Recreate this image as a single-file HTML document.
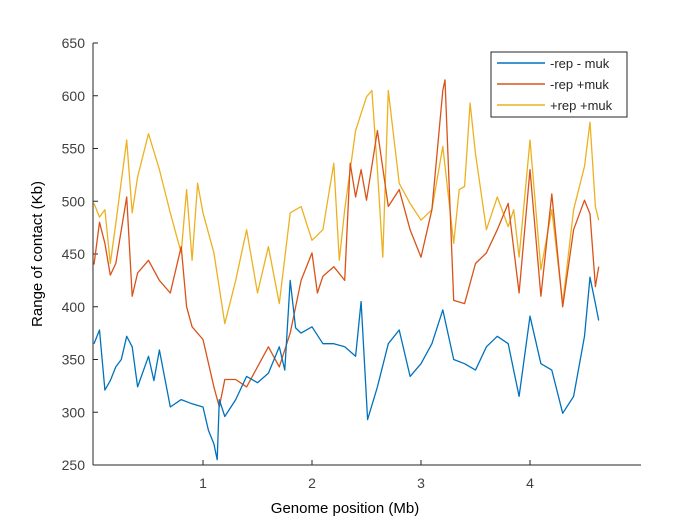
<!DOCTYPE html>
<html><head><meta charset="utf-8"><style>
html,body{margin:0;padding:0;background:#fff}
svg{display:block;font-family:"Liberation Sans",sans-serif}
</style></head><body>
<svg id="chart" width="700" height="517" viewBox="0 0 700 517">
<g id="axes"></g>
<g id="series"></g>
<g id="legend">
<rect x="491" y="52" width="136" height="65" fill="#fff" stroke="#262626" stroke-width="1"/>
<line x1="497" y1="63" x2="545" y2="63" stroke="#0072bd" stroke-width="1.5"/>
<text x="550" y="68" font-size="13" fill="#262626">-rep - muk</text>
<line x1="497" y1="84" x2="545" y2="84" stroke="#d95319" stroke-width="1.5"/>
<text x="550" y="89" font-size="13" fill="#262626">-rep +muk</text>
<line x1="497" y1="105" x2="545" y2="105" stroke="#edb120" stroke-width="1.5"/>
<text x="550" y="110" font-size="13" fill="#262626">+rep +muk</text>
</g>
</svg>
<script>
const yTicks=[250,300,350,400,450,500,550,600,650];
const xTicks=[1,2,3,4];
const blueX=[0,0.05,0.1,0.15,0.2,0.25,0.3,0.35,0.4,0.5,0.55,0.6,0.7,0.8,0.9,1.0,1.05,1.1,1.13,1.15,1.2,1.3,1.4,1.5,1.6,1.7,1.75,1.8,1.85,1.9,2.0,2.1,2.2,2.3,2.4,2.45,2.51,2.6,2.7,2.8,2.9,3.0,3.1,3.2,3.3,3.4,3.5,3.6,3.7,3.8,3.9,4.0,4.1,4.2,4.3,4.4,4.5,4.55,4.6,4.63];
const blueY=[365,378,321,330,343,350,372,362,324,353,330,359,305,312,308,305,283,270,255,312,296,312,334,328,337,362,340,425,380,375,381,365,365,362,353,405,293,324,365,378,334,346,365,397,350,346,340,362,372,365,315,391,346,340,299,315,372,428,403,387];
const redX=[0,0.05,0.1,0.15,0.2,0.3,0.35,0.4,0.5,0.6,0.7,0.8,0.85,0.9,1.0,1.1,1.15,1.2,1.3,1.4,1.5,1.6,1.7,1.8,1.9,2.0,2.05,2.1,2.2,2.3,2.35,2.4,2.45,2.5,2.6,2.7,2.8,2.9,3.0,3.1,3.2,3.22,3.3,3.4,3.5,3.6,3.7,3.8,3.9,4.0,4.1,4.2,4.3,4.4,4.5,4.55,4.6,4.63];
const redY=[440,480,460,430,441,504,410,432,444,425,413,457,400,381,369,324,305,331,331,324,343,362,343,375,425,451,413,429,438,425,536,504,530,501,567,495,511,473,447,492,605,615,406,403,441,451,473,498,413,530,410,507,400,473,501,488,419,438];
const yelX=[0,0.05,0.1,0.15,0.2,0.3,0.35,0.4,0.5,0.6,0.7,0.8,0.85,0.9,0.95,1.0,1.1,1.2,1.3,1.4,1.5,1.6,1.7,1.8,1.9,2.0,2.1,2.2,2.25,2.3,2.4,2.5,2.55,2.6,2.65,2.7,2.8,2.9,3.0,3.1,3.2,3.3,3.35,3.4,3.45,3.5,3.6,3.7,3.8,3.85,3.9,4.0,4.1,4.2,4.3,4.4,4.5,4.55,4.6,4.63];
const yelY=[498,485,492,441,479,558,489,523,564,530,489,451,511,444,517,489,451,384,425,473,413,457,403,489,495,463,473,536,444,492,567,599,605,530,447,605,517,498,482,492,552,460,511,514,593,545,473,504,476,492,447,558,435,492,403,492,533,575,495,482];
const NS='http://www.w3.org/2000/svg';
const L=93,R=641,T=43,B=465;
function sx(v){return 94+109*v;}
function sy(v){return B-(v-250)*(B-T)/400;}
function mk(tag,attrs,parent){const e=document.createElementNS(NS,tag);for(const k in attrs)e.setAttribute(k,attrs[k]);parent.appendChild(e);return e;}
const axes=document.getElementById('axes');
let a=mk('line',{x1:L,y1:T,x2:L,y2:B,stroke:'#262626','stroke-width':1},axes);


a=mk('line',{x1:L,y1:B,x2:R,y2:B,stroke:'#262626','stroke-width':1},axes);


yTicks.forEach(t=>{
  const y=sy(t);
  const tk=mk('line',{x1:L,y1:y,x2:L+5,y2:y,stroke:'#262626'},axes);
  
  
  const tx=mk('text',{x:L-8,y:y+5,'text-anchor':'end','font-size':14,fill:'#404040'},axes);
  tx.textContent=t;
  
  
});
xTicks.forEach(t=>{
  const x=sx(t);
  const tk=mk('line',{x1:x,y1:B,x2:x,y2:B-5,stroke:'#262626'},axes);
  
  
  const tx=mk('text',{x:x,y:B+23,'text-anchor':'middle','font-size':14,fill:'#404040'},axes);
  tx.textContent=t;
  
  
});
let lb=mk('text',{x:345,y:513,'text-anchor':'middle','font-size':15,fill:'#000'},axes);
lb.textContent='Genome position (Mb)';


lb=mk('text',{x:0,y:0,'text-anchor':'middle','font-size':15,fill:'#000',transform:'translate(42,254) rotate(-90)'},axes);
lb.textContent='Range of contact (Kb)';


const ser=document.getElementById('series');
function line(xs,ys,color,name){
  const d=xs.map((x,i)=>(i?'L':'M')+sx(x).toFixed(1)+','+sy(ys[i]).toFixed(1)).join('');
  const p=mk('path',{d:d,fill:'none',stroke:color,'stroke-width':1.3,'stroke-linejoin':'round'},ser);
  
  
}
line(yelX,yelY,'#edb120','series-plus-rep-plus-muk');
line(redX,redY,'#d95319','series-minus-rep-plus-muk');
line(blueX,blueY,'#0072bd','series-minus-rep-minus-muk');
</script>
</body></html>
